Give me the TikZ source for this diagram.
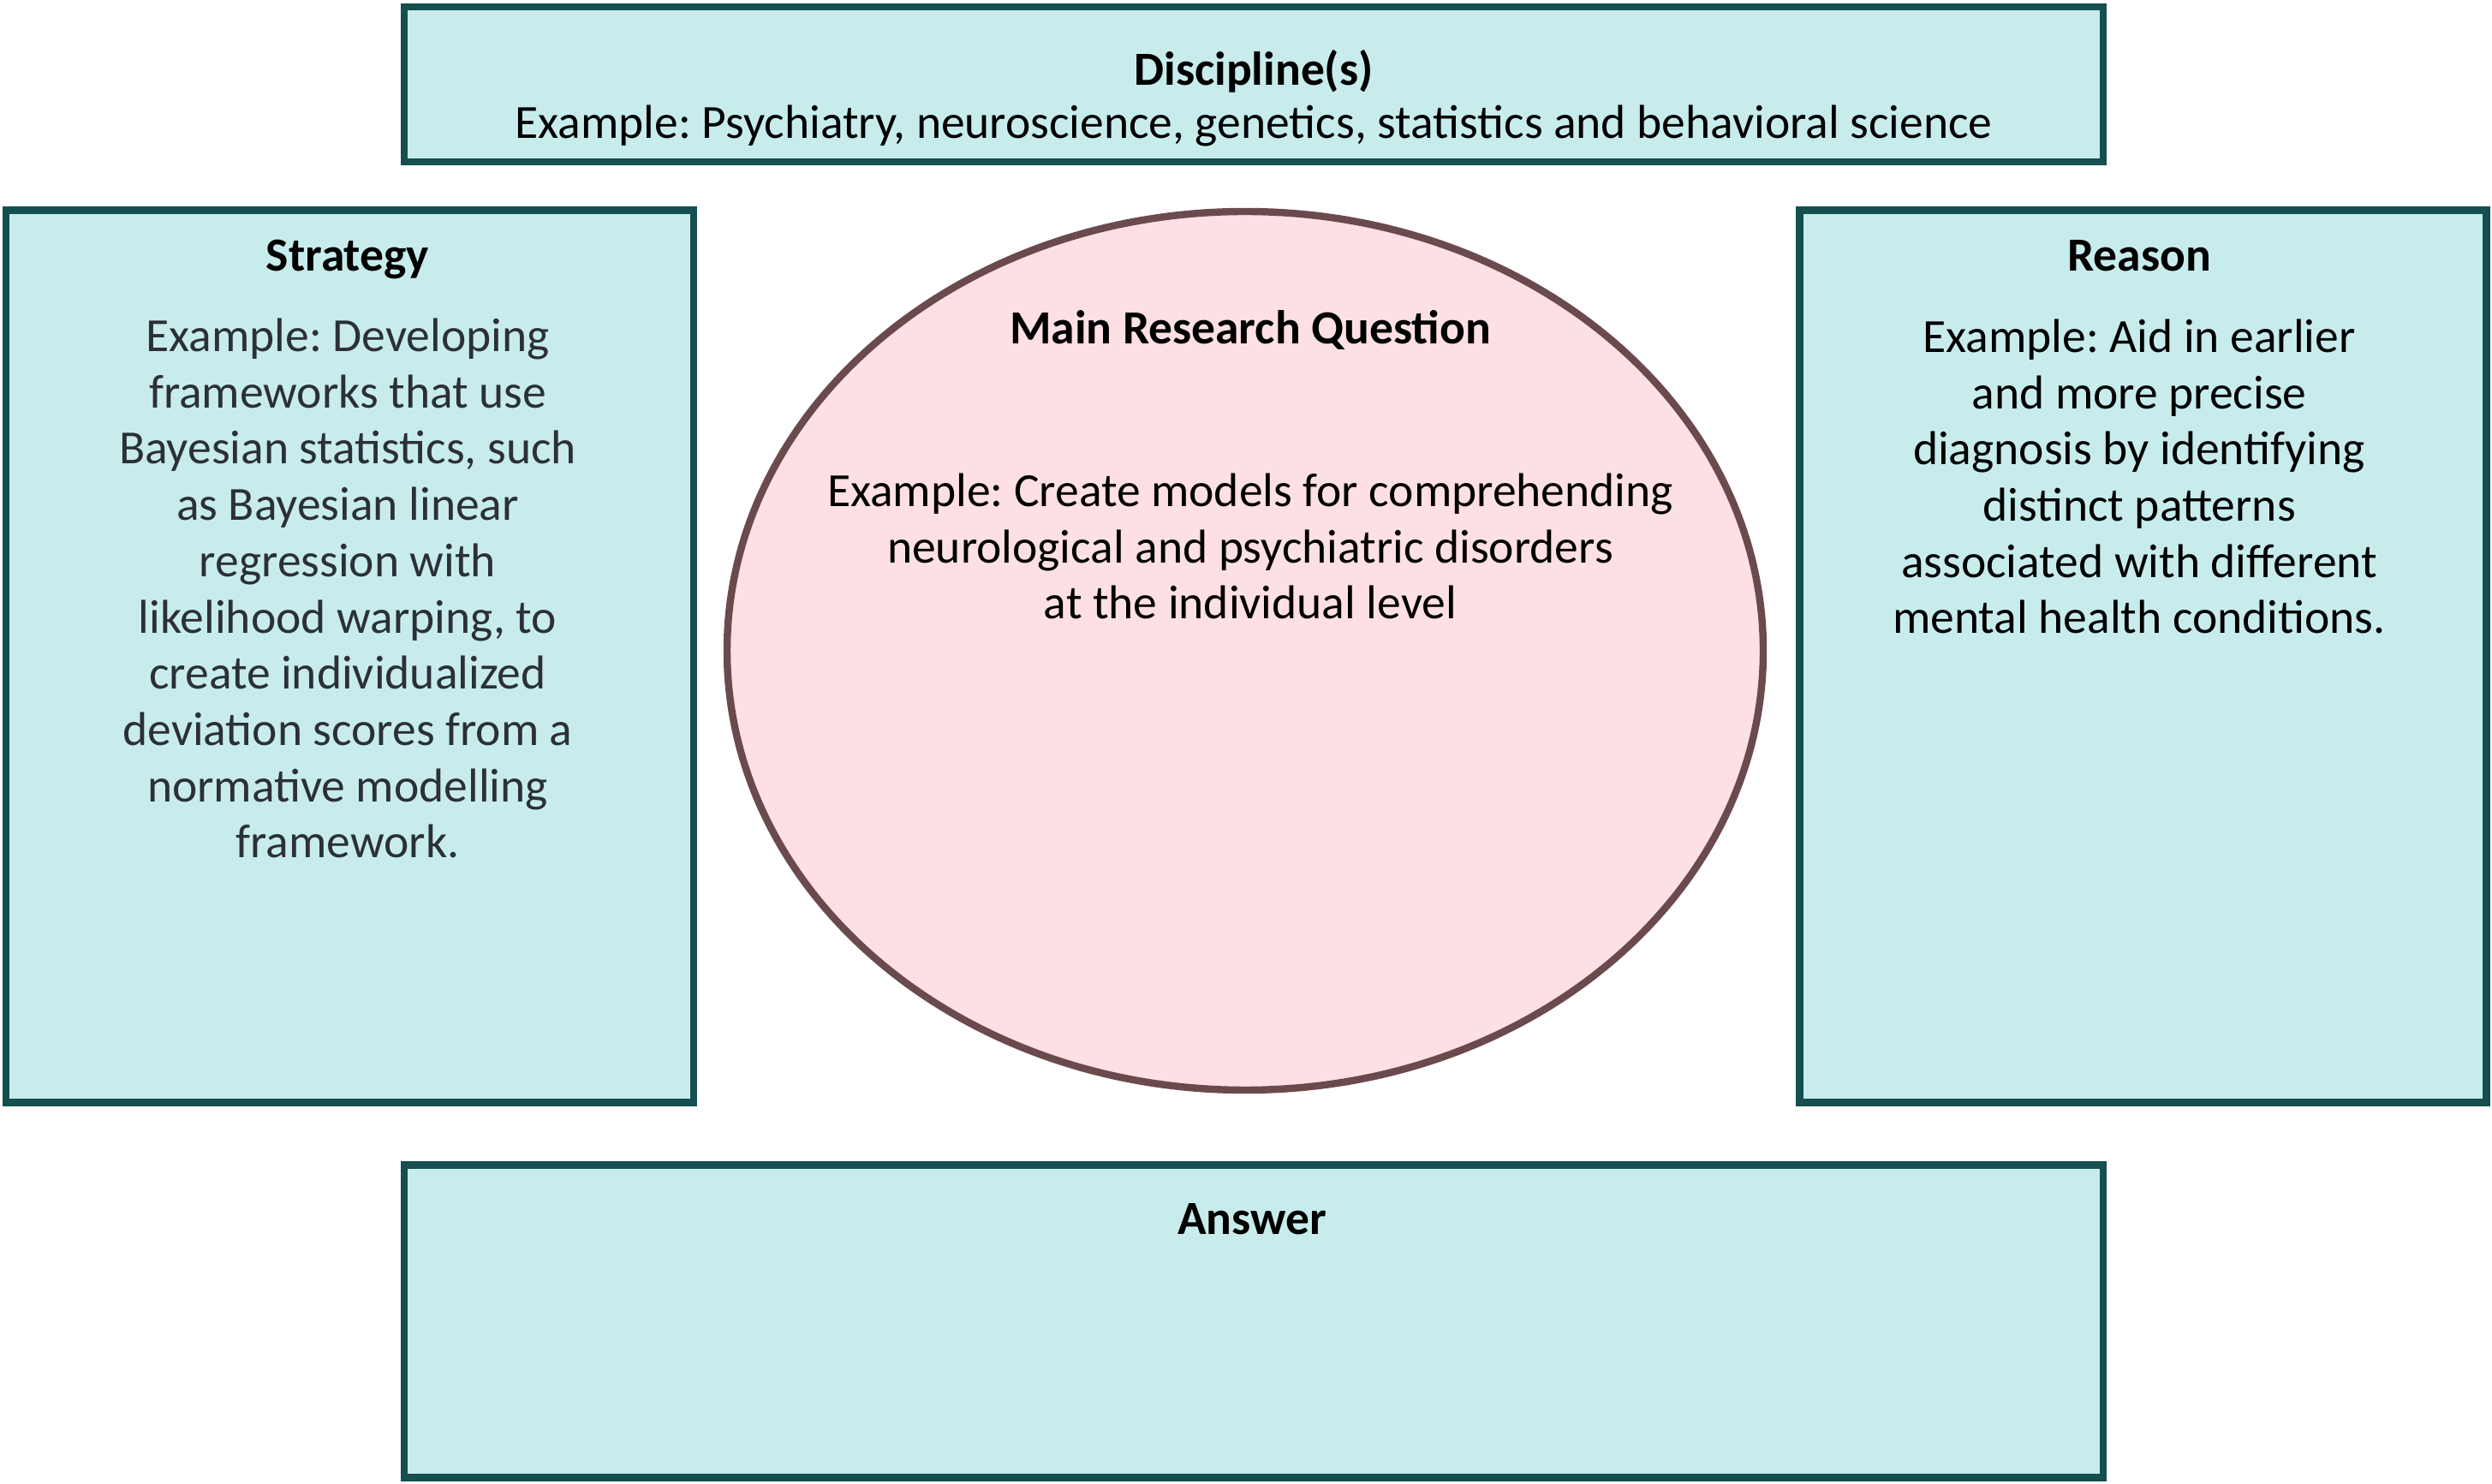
\documentclass[tikz,border=0pt]{standalone}
\usepackage{fontspec}
\setmainfont{Carlito}
\usepackage{tikz}
\usetikzlibrary{positioning}
\usepackage{xcolor}
\definecolor{boxfill}{HTML}{C8ECEC}
\definecolor{boxline}{HTML}{154F4F}
\definecolor{ovalfill}{HTML}{FDE0E4}
\definecolor{ovalline}{HTML}{6B4A4E}
\definecolor{graytext}{HTML}{2B3037}
\frenchspacing

\begin{document}
\begin{tikzpicture}[
        box/.style={draw=boxline, fill=boxfill, line width=2.4pt, inner sep=0pt},
        title/.style={font=\fontsize{15.8}{18.7}\selectfont\bfseries, anchor=base},
        body/.style={font=\fontsize{15.8}{18.7}\selectfont, align=center, anchor=base}
    ]
    \useasboundingbox (0, 0) rectangle (29.10, 17.32);
    % boxes
    \node[box, minimum width=19.84cm, minimum height=1.81cm] (discipline) at (14.64, 16.335) {};
    \node[box, minimum width=8.03cm, minimum height=10.42cm] (strategy) at (4.085, 9.655) {};
    \node[box, minimum width=8.02cm, minimum height=10.42cm] (reason) at (25.025, 9.655) {};
    \node[box, minimum width=19.84cm, minimum height=3.65cm] (answer) at (14.64, 1.89) {};
    \draw[draw=ovalline, fill=ovalfill, line width=2.4pt] (14.54, 9.72) ellipse (6.05 and 5.13);
    \node[minimum width=12.1cm, minimum height=10.26cm, inner sep=0pt] (question) at (14.54, 9.72) {};
    % texts (base = last line)
    \node[title] (disciplinetitle) at (14.64, 16.32) {Discipline(s)};
    \node[body] (disciplinetext) at (14.64, 15.70) {Example: Psychiatry, neuroscience, genetics, statistics and behavioral science};
    \node[title] (strategytitle) at (4.06, 14.15) {Strategy};
    \node[body, text=graytext] (strategytext) at (4.06, 7.30) {Example: Developing\\frameworks that use\\Bayesian statistics, such\\as Bayesian linear\\regression with\\likelihood warping, to\\create individualized\\deviation scores from a\\normative modelling\\framework.};
    \node[title] (reasontitle) at (24.98, 14.15) {Reason};
    \node[body] (reasontext) at (24.98, 9.92) {Example: Aid in earlier\\and more precise\\diagnosis by identifying\\distinct patterns\\associated with different\\mental health conditions.};
    \node[title] (questiontitle) at (14.60, 13.30) {Main Research Question};
    \node[body] (questiontext) at (14.60, 10.09) {Example: Create models for comprehending\\neurological and psychiatric disorders\\at the individual level};
    \node[title] (answertitle) at (14.62, 2.90) {Answer};
\end{tikzpicture}
\end{document}
